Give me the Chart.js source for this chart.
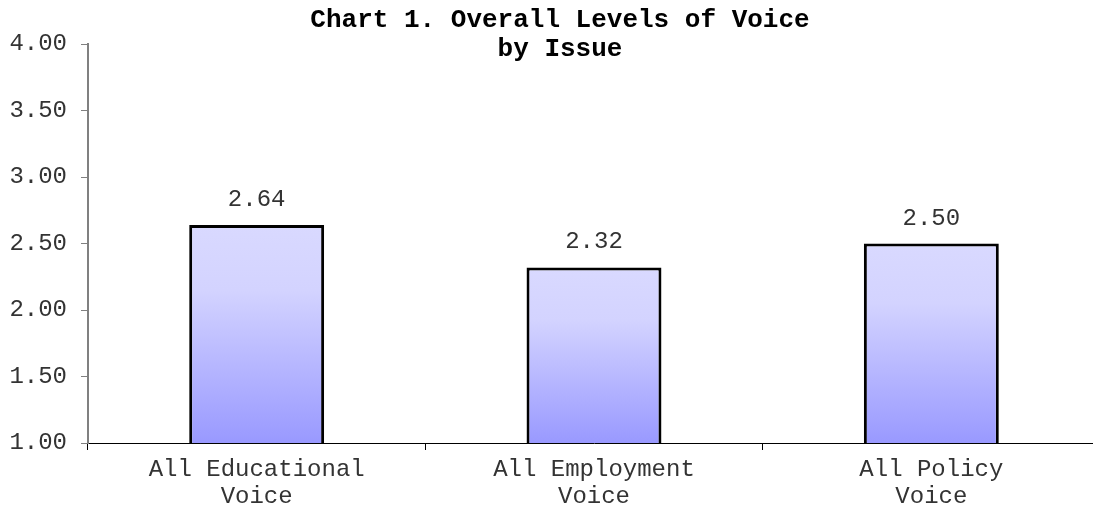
<!DOCTYPE html>
<html>
<head>
<meta charset="utf-8">
<script src="https://cdn.jsdelivr.net/npm/chart.js@4"></script>
<style>
  html, body { margin: 0; padding: 0; background: #fff; overflow: hidden; }
  #wrap { width: 1100px; height: 510px; }
</style>
</head>
<body>
<div id="wrap"><canvas id="voiceChart" width="1100" height="510"></canvas></div>
<script>
// --- dati ---
const CATEGORIES = [["All Educational", "Voice"], ["All Employment", "Voice"], ["All Policy", "Voice"]];
const VOICE_LEVELS = [2.64, 2.32, 2.50];
const TITLE_LINES = ["Chart 1. Overall Levels of Voice", "by Issue"];
const Y_MIN = 1, Y_MAX = 4, Y_STEP = 0.5;

const MONO = "'Liberation Mono', 'Courier New', monospace";

// gradiente verticale per barra: chiaro in alto, più scuro verso la base
function barGradient(c){
  const chart = c.chart;
  const y = chart.scales && chart.scales.y;
  if (!y || !chart.chartArea) return "#bbbbff";
  const top = y.getPixelForValue(c.raw);
  const bottom = y.getPixelForValue(Y_MIN);
  const g = chart.ctx.createLinearGradient(0, top, 0, bottom);
  g.addColorStop(0, "#d9d9ff");
  g.addColorStop(0.3, "#d3d3ff");
  g.addColorStop(1, "#9999ff");
  return g;
}

// titolo su due righe, disegnato sopra l'area del grafico
const titlePlugin = {
  id: "twoLineTitle",
  afterDraw(chart){
    const ctx = chart.ctx;
    ctx.save();
    ctx.font = "bold 26px " + MONO;
    ctx.fillStyle = "#000";
    ctx.textAlign = "center";
    ctx.textBaseline = "alphabetic";
    TITLE_LINES.forEach((t, i) => ctx.fillText(t, 560, 27 + i * 29));
    ctx.restore();
  }
};

// valore sopra ogni barra
const valueLabels = {
  id: "valueLabels",
  afterDatasetsDraw(chart){
    const ctx = chart.ctx;
    const meta = chart.getDatasetMeta(0);
    ctx.save();
    ctx.font = "24px " + MONO;
    ctx.fillStyle = "#333";
    ctx.textAlign = "center";
    ctx.textBaseline = "alphabetic";
    meta.data.forEach((bar, i) => {
      ctx.fillText(VOICE_LEVELS[i].toFixed(2), bar.x, bar.y - 19);
    });
    ctx.restore();
  }
};

new Chart(document.getElementById("voiceChart"), {
  type: "bar",
  data: {
    labels: CATEGORIES,
    datasets: [{
      data: VOICE_LEVELS,
      backgroundColor: barGradient,
      borderColor: "#000",
      borderWidth: 3,
      borderSkipped: false,
      barPercentage: 0.4,
      categoryPercentage: 1
    }]
  },
  options: {
    responsive: false,
    animation: false,
    layout: { padding: { top: 44, right: 0, bottom: 0, left: 0 } },
    plugins: {
      legend: { display: false },
      title: { display: false },
      tooltip: { enabled: false }
    },
    scales: {
      x: {
        afterFit: (s) => { s.height = 67; },
        grid: { drawOnChartArea: false, offset: true, tickLength: 7, color: "#000", lineWidth: 1 },
        border: { color: "#000", width: 1 },
        ticks: {
          color: "#333",
          font: { family: MONO, size: 24, lineHeight: 1.12 },
          padding: 6,
          maxRotation: 0,
          autoSkip: false
        }
      },
      y: {
        min: Y_MIN, max: Y_MAX,
        afterFit: (s) => { s.width = 88; },
        grid: { drawOnChartArea: false, tickLength: 7, color: "#808080", lineWidth: 1 },
        border: { color: "#808080", width: 2 },
        ticks: {
          stepSize: Y_STEP,
          color: "#333",
          font: { family: MONO, size: 24 },
          padding: 14,
          callback: (v) => Number(v).toFixed(2)
        }
      }
    }
  },
  plugins: [titlePlugin, valueLabels]
});
</script>
</body>
</html>
